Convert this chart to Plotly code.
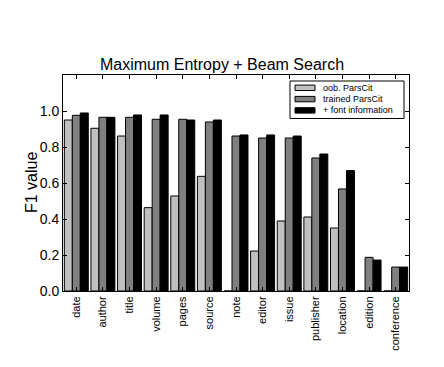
import plotly.graph_objects as go

categories = ["date", "author", "title", "volume", "pages", "source", "note",
              "editor", "issue", "publisher", "location", "edition", "conference"]
oob_parscit = [0.95, 0.904, 0.861, 0.463, 0.528, 0.637, 0.0, 0.222, 0.389, 0.411, 0.35, 0.0, 0.0]
trained_parscit = [0.976, 0.965, 0.965, 0.954, 0.954, 0.939, 0.861, 0.85, 0.85, 0.739, 0.567, 0.187, 0.133]
font_information = [0.989, 0.965, 0.978, 0.978, 0.95, 0.95, 0.867, 0.867, 0.861, 0.761, 0.669, 0.172, 0.133]
y_ticks = [0.0, 0.2, 0.4, 0.6, 0.8, 1.0]
series_names = ["oob. ParsCit", "trained ParsCit", "+ font information"]
series_colors = ["#c0c0c0", "#808080", "#000000"]

W, H = 444, 367
L, R, T, B = 63, 35, 75, 76
pw, ph = W - L - R, H - T - B

def px(x):
    return (x - L) / pw

def py(y):
    return (H - B - y) / ph

fig = go.Figure()
for name, vals, col in zip(series_names, [oob_parscit, trained_parscit, font_information], series_colors):
    fig.add_bar(x=categories, y=vals, name=name,
                marker=dict(color=col, line=dict(color="black", width=1)))

# manual compact legend
shapes = [dict(type="rect", xref="paper", yref="paper",
               x0=px(290), x1=px(404), y0=py(118.5), y1=py(81),
               line=dict(color="black", width=1), fillcolor="white", layer="above")]
annotations = []
for i, (name, col) in enumerate(zip(series_names, series_colors)):
    yc = 87.8 + i * 11.3
    shapes.append(dict(type="rect", xref="paper", yref="paper",
                       x0=px(295), x1=px(315), y0=py(yc + 2.7), y1=py(yc - 2.7),
                       line=dict(color="black", width=1), fillcolor=col, layer="above"))
    annotations.append(dict(xref="paper", yref="paper", x=px(321), y=py(yc),
                            xanchor="left", yanchor="middle", showarrow=False,
                            text=name, font=dict(size=9, color="black")))

# y-axis title
annotations.append(dict(xref="paper", yref="paper", x=px(31), y=0.5,
                        xanchor="center", yanchor="middle", showarrow=False,
                        textangle=-90, text="F1 value",
                        font=dict(size=16, color="black")))

font_family = "Liberation Sans, Arial, sans-serif"
fig.update_layout(
    width=W, height=H,
    margin=dict(l=L, r=R, t=T, b=B),
    paper_bgcolor="white", plot_bgcolor="white",
    barmode="group", bargap=0.1, bargroupgap=0,
    font=dict(family=font_family, color="black"),
    title=dict(text="Maximum Entropy + Beam Search", x=px(236), xanchor="center",
               y=(H - 64) / H, yanchor="middle", font=dict(size=16)),
    showlegend=False,
    shapes=shapes, annotations=annotations,
    xaxis=dict(showline=True, linecolor="black", linewidth=1, mirror="ticks",
               ticks="inside", ticklen=4, tickcolor="black", tickangle=-90,
               tickfont=dict(size=11), showgrid=False, automargin=False),
    yaxis=dict(range=[0, 1.2], showline=True, linecolor="black", linewidth=1,
               mirror="ticks", ticks="inside", ticklen=4, tickcolor="black",
               tickvals=y_ticks, ticktext=[f"{v:.1f}" for v in y_ticks],
               tickfont=dict(size=14), showgrid=False, zeroline=False,
               automargin=False),
)

fig.write_html("out.html", config={"displayModeBar": False},
               post_script="document.body.style.margin='0';document.body.style.overflow='hidden';")
